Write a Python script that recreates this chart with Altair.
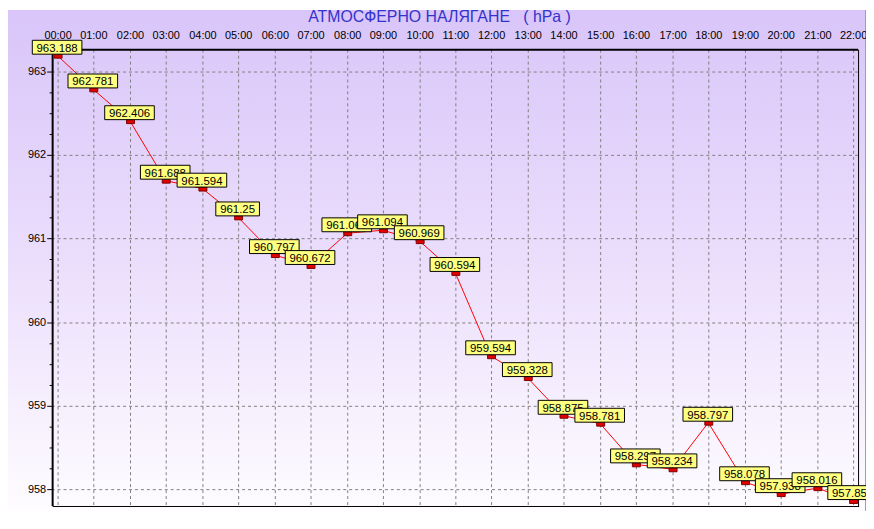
import altair as alt
import pandas as pd

# ---- data ----
hours = list(range(23))
pressure = [963.188, 962.781, 962.406, 961.688, 961.594, 961.25, 960.797, 960.672,
            961.063, 961.094, 960.969, 960.594, 959.594, 959.328, 958.875, 958.781,
            958.297, 958.234, 958.797, 958.078, 957.938, 958.016, 957.859]
labels = [str(v) for v in pressure]
y_major = [958, 959, 960, 961, 962, 963]
y_minor = [958.25, 958.5, 958.75, 959.25, 959.5, 959.75, 960.25, 960.5, 960.75,
           961.25, 961.5, 961.75, 962.25, 962.5, 962.75]
TITLE = "АТМОСФЕРНО НАЛЯГАНЕ \u00a0\u00a0( hPa )"

df = pd.DataFrame({"hour": hours, "hPa": pressure, "label": labels})
one = pd.DataFrame({"a": [0]})

W, H = 812, 460
FONT = "Liberation Sans"

x_scale = alt.Scale(domain=[-0.1372, 22.1372], nice=False, zero=False, round=True)
y_scale = alt.Scale(domain=[957.798, 963.261], nice=False, zero=False, round=True)

x_axis = alt.Axis(orient="top", values=hours,
                  labelExpr="(datum.value < 10 ? '0' : '') + datum.value + ':00'",
                  ticks=False, domain=False, grid=False, labelPadding=9,
                  labelFont=FONT, labelFontSize=11, labelColor="black",
                  labelAngle=0, labelFlush=False, labelOverlap=False, zindex=1, title=None)
y_axis = alt.Axis(values=y_major, format="d", ticks=True, tickSize=6, tickColor="black",
                  tickWidth=1, domain=False, grid=False, labelPadding=1,
                  labelFont=FONT, labelFontSize=11, labelColor="black", zindex=1, title=None)

X = alt.X("hour:Q", scale=x_scale, axis=x_axis, title=None)
Y = alt.Y("hPa:Q", scale=y_scale, axis=y_axis, title=None)

gradient = alt.LinearGradient(
    gradient="linear",
    stops=[alt.GradientStop(color="#d9c5f9", offset=0),
           alt.GradientStop(color="#ebdefc", offset=0.5),
           alt.GradientStop(color="#fefcff", offset=1)],
    x1=0, x2=0, y1=0, y2=1)

bg = alt.Chart(one).mark_rect(fill=gradient, strokeWidth=0).encode(
    x=alt.value(-45), x2=alt.value(W + 8), y=alt.value(-40), y2=alt.value(H + 5))

vgrid = alt.Chart(pd.DataFrame({"hour": hours})).mark_rule(
    color="#808080", strokeDash=[3, 3], strokeWidth=1, xOffset=0.5).encode(x=X)
hgrid = alt.Chart(pd.DataFrame({"hPa": y_major})).mark_rule(
    color="#808080", strokeDash=[3, 3], strokeWidth=1, yOffset=0.5).encode(y=Y)
minor = alt.Chart(pd.DataFrame({"hPa": y_minor})).mark_rule(
    color="black", strokeWidth=1, yOffset=0.5).encode(
    y=Y, x=alt.value(-3), x2=alt.value(0))

frame_left = alt.Chart(one).mark_rule(color="black", strokeWidth=2).encode(
    x=alt.value(0), y=alt.value(-1), y2=alt.value(H))
frame_top = alt.Chart(one).mark_rule(color="black", strokeWidth=2).encode(
    x=alt.value(-1), x2=alt.value(W), y=alt.value(0))
frame_right = alt.Chart(one).mark_rule(color="black", strokeWidth=1).encode(
    x=alt.value(W + 0.5), y=alt.value(0), y2=alt.value(H + 1))
frame_bottom = alt.Chart(one).mark_rule(color="black", strokeWidth=1).encode(
    x=alt.value(0), x2=alt.value(W + 1), y=alt.value(H + 0.5))
edge = alt.Chart(one).mark_rule(color="#a0a0a0", strokeWidth=1).encode(
    x=alt.value(W + 7.5), y=alt.value(-40), y2=alt.value(H + 5))

title = alt.Chart(one).mark_text(
    text=TITLE, font=FONT, fontSize=16, color="#3333cc",
    align="center", baseline="alphabetic").encode(x=alt.value(390), y=alt.value(-28))

line = alt.Chart().mark_line(color="#ff0000", strokeWidth=1).encode(x=X, y=Y)
markers = alt.Chart().mark_point(
    shape="M-3.5,-1.5H4.5V2.5H-3.5Z", size=4, filled=True, fill="#e00000",
    stroke="#800000", strokeWidth=1, opacity=1).encode(x=X, y=Y)

label_layers = []
for i, lab in enumerate(labels):
    if len(lab) >= 7:
        box_path = "M-25.5,-15.5H24.5V-1.5H-25.5Z"
    else:
        box_path = "M-22.5,-15.5H21.5V-1.5H-22.5Z"
    box = alt.Chart().mark_point(
        shape=box_path, size=4, filled=True, fill="#ffff80", stroke="black",
        strokeWidth=1, opacity=1).encode(x=X, y=Y).transform_filter(alt.datum.hour == i)
    txt = alt.Chart().mark_text(
        font=FONT, fontSize=11.5, color="black", align="center", baseline="alphabetic",
        dy=-4, dx=-0.5).encode(x=X, y=Y, text="label:N").transform_filter(alt.datum.hour == i)
    label_layers += [box, txt]

chart = alt.layer(
    bg, vgrid, hgrid, minor, frame_left, frame_top, frame_right, frame_bottom, edge,
    title, line, markers, *label_layers, data=df
).properties(
    width=W, height=H,
    padding={"left": 45, "top": 40, "right": 8, "bottom": 5},
    autosize=alt.AutoSizeParams(type="none"),
).configure_view(stroke=None).configure(background="white")

chart.save("out.html", embed_options={"renderer": "svg", "actions": False})
